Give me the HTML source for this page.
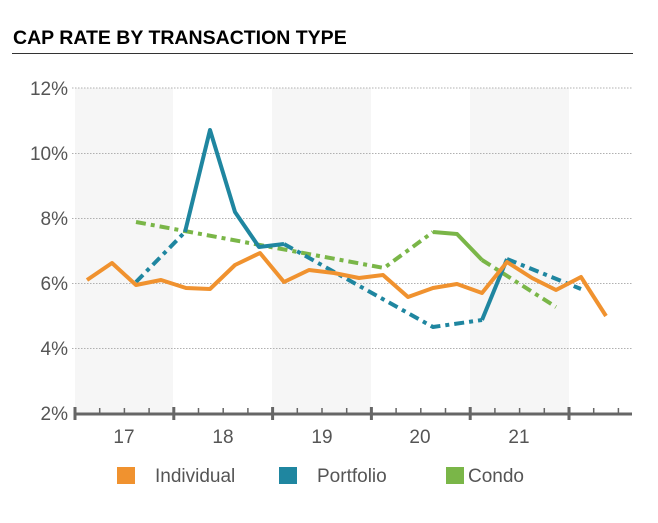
<!DOCTYPE html>
<html><head><meta charset="utf-8"><style>
body{margin:0;background:#fff;width:658px;height:518px;overflow:hidden;font-family:"Liberation Sans",sans-serif}
</style></head><body>
<svg width="658" height="518" viewBox="0 0 658 518" xmlns="http://www.w3.org/2000/svg" font-family="Liberation Sans, sans-serif">
<text x="13" y="44" font-size="19.5" font-weight="bold" fill="#000">CAP RATE BY TRANSACTION TYPE</text>
<line x1="12" y1="53.5" x2="633" y2="53.5" stroke="#333" stroke-width="1"/>
<rect x="75" y="88" width="98" height="325" fill="#f6f6f6"/>
<rect x="272" y="88" width="99" height="325" fill="#f6f6f6"/>
<rect x="470" y="88" width="99" height="325" fill="#f6f6f6"/>
<g stroke="#b0b0b0" stroke-width="1" stroke-dasharray="1.5 1.5">
<line x1="72" y1="88" x2="632" y2="88"/><line x1="72" y1="153.5" x2="632" y2="153.5"/>
<line x1="72" y1="218.5" x2="632" y2="218.5"/><line x1="72" y1="283.5" x2="632" y2="283.5"/>
<line x1="72" y1="348.5" x2="632" y2="348.5"/>
</g>
<g font-size="19" fill="#555" text-anchor="end">
<text x="68" y="95">12%</text><text x="68" y="160">10%</text><text x="68" y="225">8%</text>
<text x="68" y="290">6%</text><text x="68" y="355">4%</text><text x="68" y="420">2%</text>
</g>
<g fill="none" stroke-width="4" stroke-linejoin="round">
<polyline stroke="#7ab648" stroke-dasharray="10 5 4 5" points="136,222 384,268 433,232"/>
<polyline stroke="#7ab648" points="433,232 457,234 482,260"/>
<polyline stroke="#7ab648" stroke-dasharray="10 5 4 5" points="482,260 556,307"/>
<polyline stroke="#1f86a0" stroke-dasharray="10 5 4 5" points="136,282 185,232"/>
<polyline stroke="#1f86a0" points="185,232 210,130 235,212 259,247 284,244"/>
<polyline stroke="#1f86a0" stroke-dasharray="10 5 4 5" points="284,244 433,327 482,320"/>
<polyline stroke="#1f86a0" points="482,320 507,259"/>
<polyline stroke="#1f86a0" stroke-dasharray="10 5 4 5" points="507,259 581,289"/>
<polyline stroke="#f0922f" points="87,280 112,263 136,285 161,280 186,288 210,289 235,265 260,253 284,282 309,270 334,273 359,278 383,275 408,297 433,288 457,284 482,293 507,262 532,278 556,290 581,277 606,316"/>
</g>
<line x1="74" y1="414" x2="632" y2="414" stroke="#666" stroke-width="3"/>
<g stroke="#666" stroke-width="1.5">
<line x1="99.7" y1="408" x2="99.7" y2="414"/><line x1="124.4" y1="408" x2="124.4" y2="414"/><line x1="149.1" y1="408" x2="149.1" y2="414"/>
<line x1="198.5" y1="408" x2="198.5" y2="414"/><line x1="223.2" y1="408" x2="223.2" y2="414"/><line x1="247.9" y1="408" x2="247.9" y2="414"/>
<line x1="297.3" y1="408" x2="297.3" y2="414"/><line x1="322" y1="408" x2="322" y2="414"/><line x1="346.7" y1="408" x2="346.7" y2="414"/>
<line x1="396.1" y1="408" x2="396.1" y2="414"/><line x1="420.8" y1="408" x2="420.8" y2="414"/><line x1="445.5" y1="408" x2="445.5" y2="414"/>
<line x1="494.9" y1="408" x2="494.9" y2="414"/><line x1="519.6" y1="408" x2="519.6" y2="414"/><line x1="544.3" y1="408" x2="544.3" y2="414"/>
<line x1="593.7" y1="408" x2="593.7" y2="414"/><line x1="618.4" y1="408" x2="618.4" y2="414"/>
</g>
<g stroke="#666" stroke-width="3">
<line x1="75" y1="407" x2="75" y2="420"/><line x1="173.8" y1="407" x2="173.8" y2="420"/><line x1="272.6" y1="407" x2="272.6" y2="420"/>
<line x1="371.4" y1="407" x2="371.4" y2="420"/><line x1="470.2" y1="407" x2="470.2" y2="420"/><line x1="569" y1="407" x2="569" y2="420"/>
</g>
<g font-size="19" fill="#555" text-anchor="middle">
<text x="124" y="443">17</text><text x="223" y="443">18</text><text x="322" y="443">19</text>
<text x="420" y="443">20</text><text x="519" y="443">21</text>
</g>
<rect x="117" y="467" width="18" height="17" fill="#f0922f"/>
<text x="155" y="482" font-size="19" fill="#555">Individual</text>
<rect x="279" y="467" width="18" height="17" fill="#1f86a0"/>
<text x="317" y="482" font-size="19" fill="#555">Portfolio</text>
<rect x="446" y="467" width="18" height="17" fill="#7ab648"/>
<text x="468" y="482" font-size="19" fill="#555">Condo</text>
</svg>
</body></html>
